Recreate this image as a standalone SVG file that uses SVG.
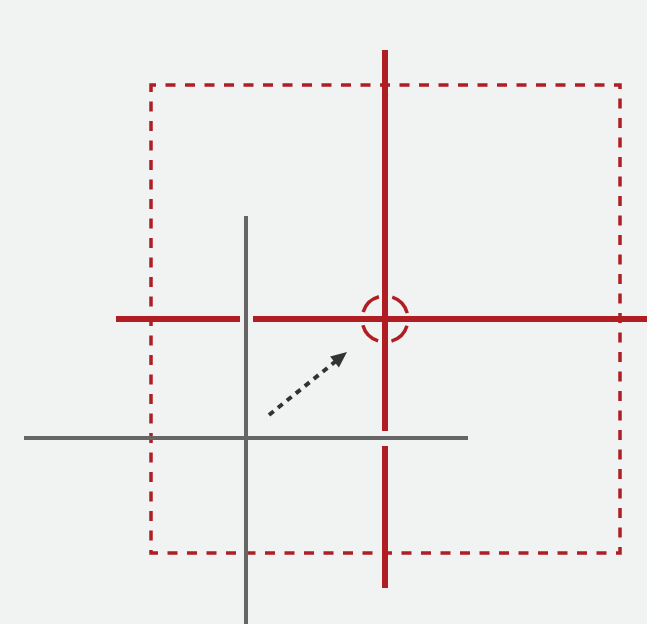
<svg xmlns="http://www.w3.org/2000/svg" width="647" height="624" viewBox="0 0 647 624">
<style>
.red{stroke:#b01e24;fill:none}
.gray{stroke:#666666;stroke-width:4;fill:none}
</style>
<rect x="0" y="0" width="647" height="624" fill="#f1f3f2"/>
<g id="frame">
<rect class="red" x="151" y="85" width="469" height="468" stroke-width="3.5" stroke-dasharray="10 9.5" stroke-dashoffset="5"/>
</g>
<g id="axes-gray">
<line class="gray" x1="246" y1="216" x2="246" y2="624"/>
<line class="gray" x1="24" y1="438" x2="468" y2="438"/>
</g>
<g id="axes-red">
<line class="red" x1="385" y1="50" x2="385" y2="431" stroke-width="6"/>
<line class="red" x1="385" y1="446" x2="385" y2="588" stroke-width="6"/>
<line class="red" x1="116" y1="319" x2="240" y2="319" stroke-width="6"/>
<line class="red" x1="253" y1="319" x2="647" y2="319" stroke-width="6"/>
</g>
<g id="target">
<circle class="red" cx="385" cy="319" r="23" stroke-width="3.5" stroke-dasharray="22.5 13.6" stroke-dashoffset="29.3"/>
</g>
<g id="connectors">
<line x1="269" y1="415" x2="336" y2="361" stroke="#333333" stroke-width="4" stroke-dasharray="6 5.5"/>
<polygon points="347,352 338.9,367.6 330.1,356.6" fill="#333333"/>
</g>
</svg>
